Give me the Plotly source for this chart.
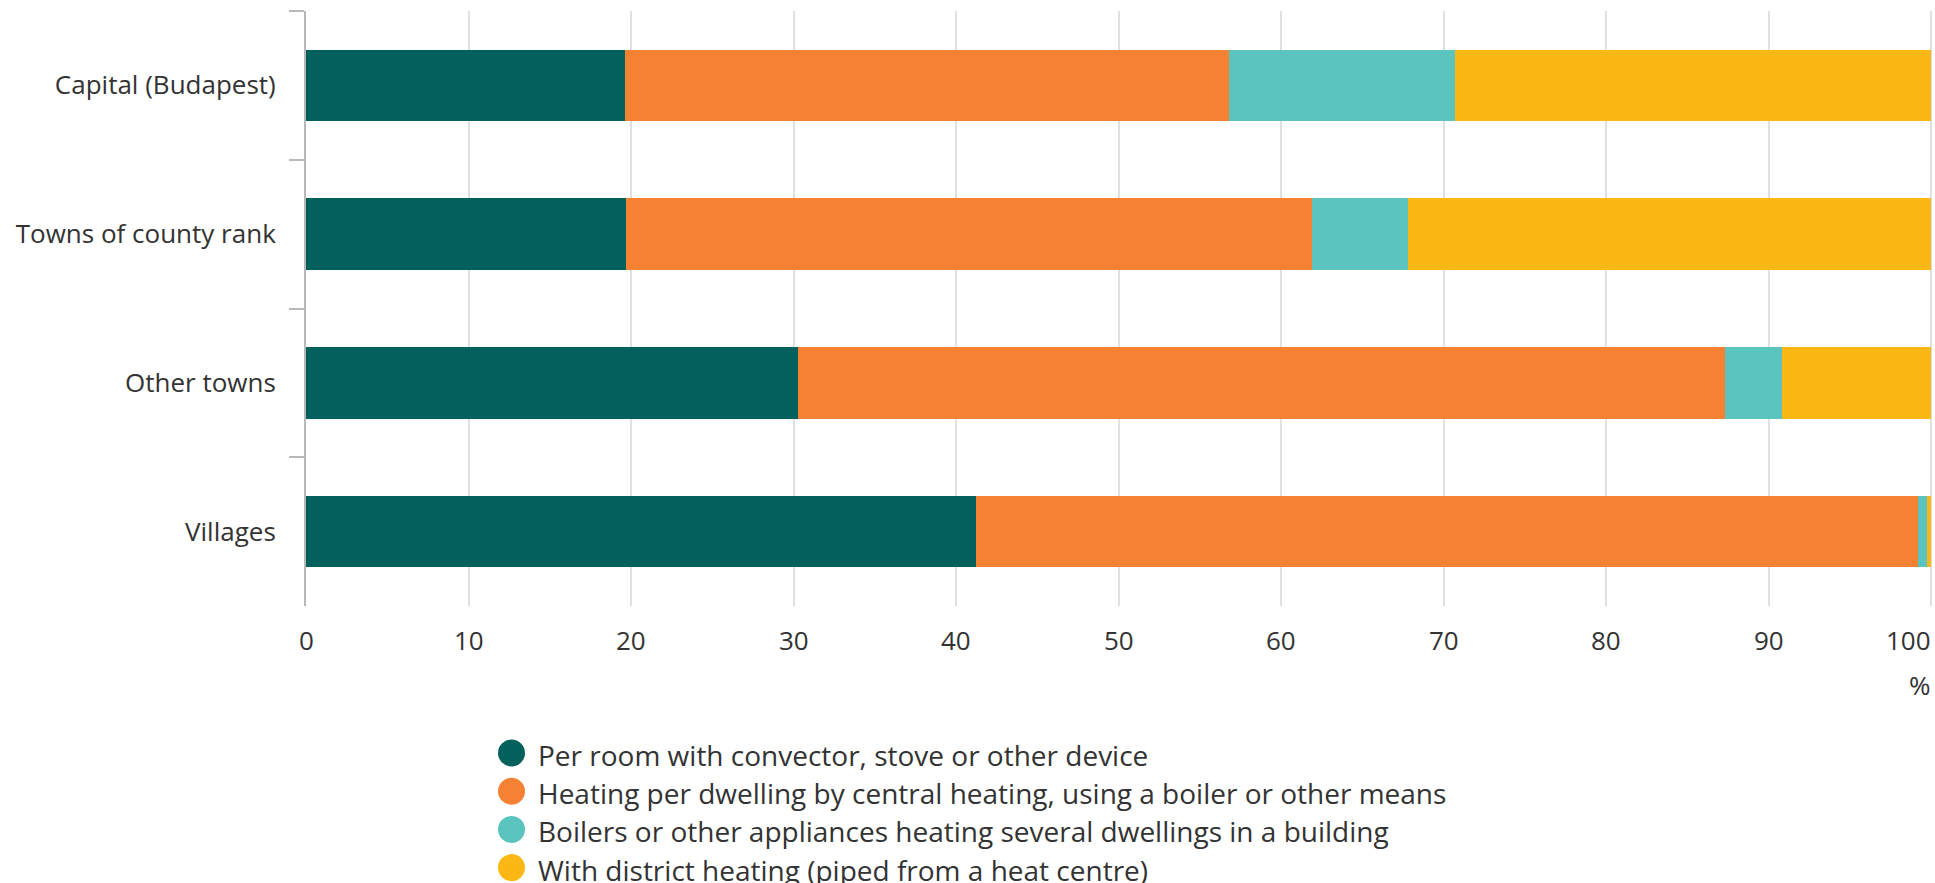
import plotly.graph_objects as go

# Dwellings by type of heating, share by settlement type (%)
CATEGORIES = ["Capital (Budapest)", "Towns of county rank", "Other towns", "Villages"]
SERIES = [
    "Per room with convector, stove or other device",
    "Heating per dwelling by central heating, using a boiler or other means",
    "Boilers or other appliances heating several dwellings in a building",
    "With district heating (piped from a heat centre)",
]
PER_ROOM = [19.6, 19.7, 30.3, 41.2]
PER_DWELLING = [37.2, 42.2, 57.0, 58.0]
SHARED_BOILER = [13.9, 5.9, 3.5, 0.5]
DISTRICT = [29.3, 32.2, 9.2, 0.3]
X_TICKS = [0, 10, 20, 30, 40, 50, 60, 70, 80, 90, 100]
UNIT = "%"

COLORS = ["#02605d", "#f58233", "#5bc4bf", "#fbb814"]
FONT = "Open Sans"
TEXT = "#333333"

W, H = 1935, 883
M_L, M_R, M_T, M_B = 306, 2, 11, 277
PLOT_W = W - M_L - M_R
PLOT_H = H - M_T - M_B


def px_x(p):
    return (p - M_L) / PLOT_W


def px_y(p):
    return (H - M_B - p) / PLOT_H


fig = go.Figure()
for name, vals, col in zip(SERIES, [PER_ROOM, PER_DWELLING, SHARED_BOILER, DISTRICT], COLORS):
    fig.add_trace(go.Bar(
        y=CATEGORIES, x=vals, name=name, orientation="h",
        marker=dict(color=col, line=dict(width=0)),
        width=0.48, showlegend=False,
    ))

annotations = []
# x tick labels (last one kept inside the page)
for i, t in enumerate(X_TICKS):
    last = i == len(X_TICKS) - 1
    annotations.append(dict(
        x=t, xref="x", y=px_y(640), yref="paper", text=str(t),
        showarrow=False, xanchor="right" if last else "center", yanchor="middle",
        xshift=2 if last else 0,
        font=dict(family=FONT, size=26, color=TEXT),
    ))
annotations.append(dict(
    x=X_TICKS[-1], xref="x", y=px_y(685), yref="paper", text=UNIT,
    showarrow=False, xanchor="right", yanchor="middle", xshift=2,
    font=dict(family=FONT, size=26, color=TEXT),
))

# legend with round swatches
shapes = []
LEG_X, LEG_Y0, LEG_STEP, R = 511.5, 753, 38.2, 13.5
for i, (name, col) in enumerate(zip(SERIES, COLORS)):
    cy = LEG_Y0 + i * LEG_STEP
    shapes.append(dict(
        type="circle", xref="paper", yref="paper",
        x0=px_x(LEG_X - R), x1=px_x(LEG_X + R),
        y0=px_y(cy + R), y1=px_y(cy - R),
        fillcolor=col, line=dict(width=0),
    ))
    annotations.append(dict(
        x=px_x(536), xref="paper", y=px_y(cy + 2), yref="paper", text=name,
        showarrow=False, xanchor="left", yanchor="middle",
        font=dict(family=FONT, size=28, color=TEXT),
    ))

fig.update_layout(
    width=W, height=H,
    margin=dict(l=M_L, r=M_R, t=M_T, b=M_B, pad=0),
    barmode="stack",
    plot_bgcolor="white", paper_bgcolor="white",
    font=dict(family=FONT, size=26, color=TEXT),
    xaxis=dict(
        range=[0, 100.1], tickvals=X_TICKS, showticklabels=False,
        showgrid=True, gridcolor="#e0e0e0", gridwidth=2,
        zeroline=False, showline=False, ticks="",
    ),
    yaxis=dict(
        autorange="reversed", type="category",
        showline=True, linecolor="#b8b8b8", linewidth=2,
        ticks="outside", tickson="boundaries", ticklen=15, tickwidth=2, tickcolor="#b8b8b8",
        showgrid=False, zeroline=False,
        tickfont=dict(family=FONT, size=26, color=TEXT),
        ticklabelstandoff=23,
    ),
    shapes=shapes,
    annotations=annotations,
)

fig.write_html("out.html")
